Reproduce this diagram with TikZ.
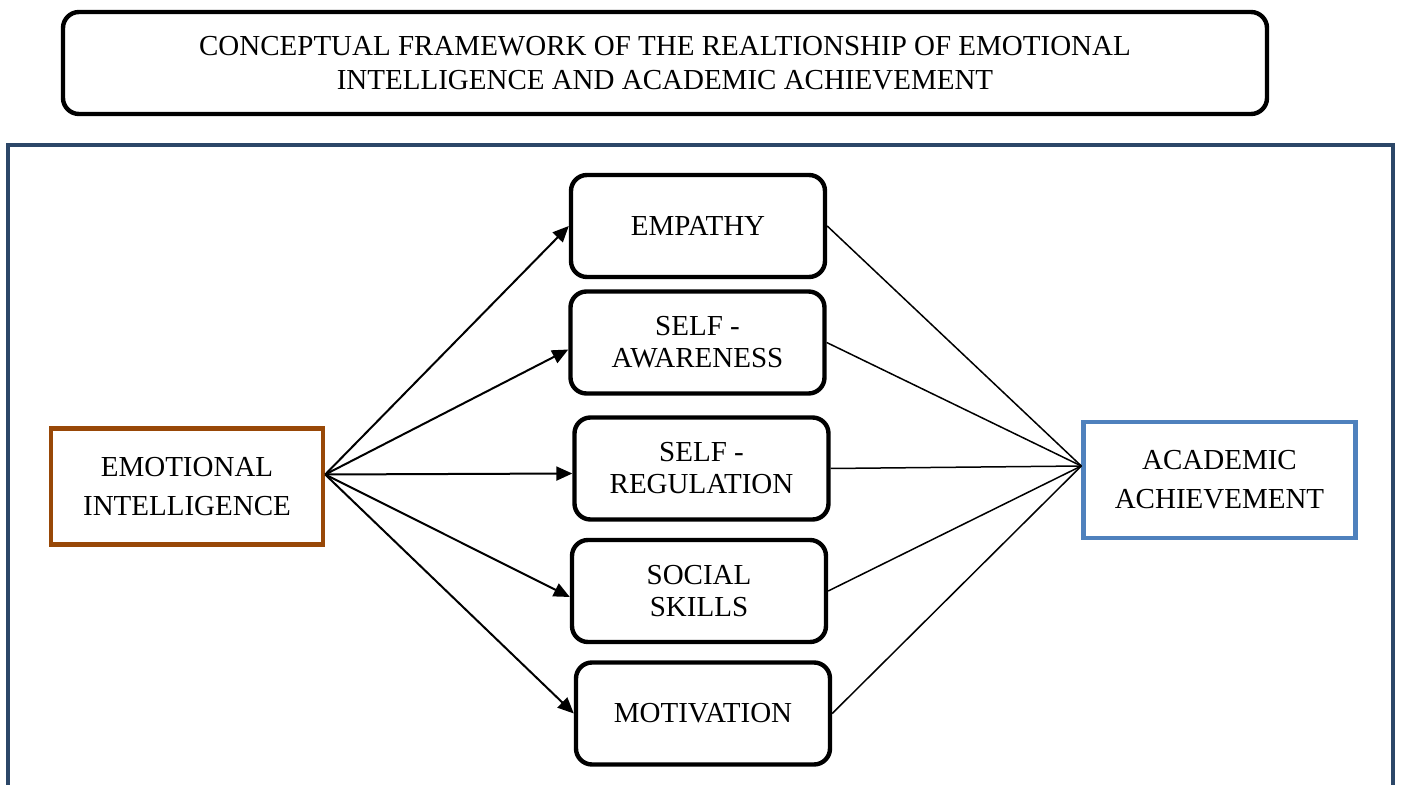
\documentclass[tikz,border=0pt]{standalone}
\usepackage{fontspec}
\setmainfont{Liberation Serif}
\usetikzlibrary{arrows.meta}
\definecolor{frameBlue}{HTML}{2C4768}
\definecolor{eiBrown}{HTML}{984807}
\definecolor{aaBlue}{HTML}{4F81BD}

\begin{document}
\begin{tikzpicture}
[x=0.5pt,y=-0.5pt,
  titleDecorate/.style={shape=rectangle,draw,line width=2.2pt,rounded corners=8pt,
    minimum width=602pt,minimum height=51pt,align=center,
    font=\fontsize{14.5}{17}\selectfont},
  factorDecorate/.style={shape=rectangle,draw,line width=2.2pt,rounded corners=8pt,
    minimum width=127pt,minimum height=51pt,align=center,
    font=\fontsize{14.5}{16}\selectfont},
  mainDecorate/.style={shape=rectangle,draw,line width=2.2pt,
    minimum width=136pt,minimum height=58pt,align=center,
    font=\fontsize{14.5}{19.5}\selectfont},
  arrowDecorate/.style={-{Triangle[length=8pt,width=7pt]},line width=1pt},
  lineDecorate/.style={-,line width=0.75pt}]
\useasboundingbox (0,0) rectangle (1403,785);
%% frame
\draw[frameBlue,line width=2pt] (8,785) -- (8,145) -- (1393,145) -- (1393,785);
%% title
\node (title) at (665,63) [titleDecorate]
  {CONCEPTUAL FRAMEWORK OF THE REALTIONSHIP OF EMOTIONAL\\INTELLIGENCE AND ACADEMIC ACHIEVEMENT};
%% main nodes
\node (ei) at (187,486.5) [mainDecorate,draw=eiBrown] {EMOTIONAL\\INTELLIGENCE};
\node (aa) at (1219.5,480) [mainDecorate,draw=aaBlue] {ACADEMIC\\ACHIEVEMENT};
%% factor nodes
\foreach \nodename/\x/\y/\label in {
  empathy/698/226/{EMPATHY},
  awareness/697.5/342.5/{SELF -\\AWARENESS},
  regulation/701.5/468.5/{SELF -\\REGULATION},
  social/699/591/{SOCIAL\\SKILLS},
  motivation/703/713.5/{MOTIVATION}}
{
  \node (\nodename) at (\x,\y) [factorDecorate] {\label};
}
%% edges or lines
\foreach \nodename/\dy in {empathy/0, awareness/7, regulation/5, social/6, motivation/0}
{
  \draw[arrowDecorate] ([yshift=6pt]ei.east) -- ([yshift=-\dy*0.5pt]\nodename.west);
  \draw[lineDecorate] (\nodename.east) -- ([yshift=7pt]aa.west);
}
\end{tikzpicture}
\end{document}
